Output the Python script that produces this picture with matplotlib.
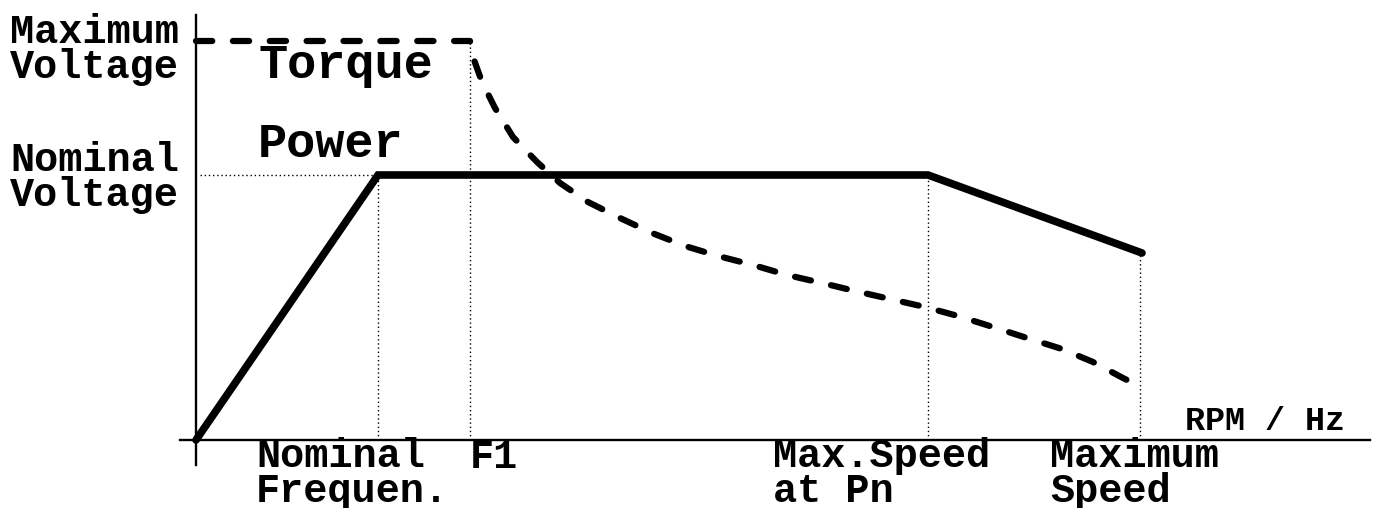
import numpy as np
import matplotlib
matplotlib.use("Agg")
import matplotlib.pyplot as plt

# speed axis (arbitrary units, origin at 0)
power_x = [0, 182, 732, 946]
power_y = [0, 265, 265, 187]

torque_x = [0, 274, 277, 286, 299, 317, 341, 364, 392, 424, 456, 489, 522, 557,
            591, 626, 659, 694, 729, 762, 797, 831, 866, 897, 927, 939]
torque_y = [399, 399, 383, 358, 332, 303, 278, 257, 238, 222, 207, 194, 184, 175,
            165, 157, 149, 141, 133, 124, 113, 102, 91, 78, 62, 56]

nominal_freq = 182
f1 = 274
max_speed_pn = 732
max_speed = 944
nominal_v = 265
max_v = 399
power_at_max = 187

y_labels = ["Maximum\nVoltage", "Nominal\nVoltage"]
x_labels = ["Nominal\nFrequen.", "F1", "Max.Speed\nat Pn", "Maximum\nSpeed"]

mono = "Liberation Mono"

fig = plt.figure(figsize=(13.77, 5.08), dpi=100)
ax = fig.add_axes([0, 0, 1, 1])
ax.set_xlim(-196, 1377 - 196)
ax.set_ylim(440 - 508, 440)
ax.axis("off")

# axes
ax.plot([0, 0], [-25, 425], color="black", lw=1.7)
ax.plot([-16, 1174], [0, 0], color="black", lw=1.7)

# dotted guides
dot = dict(color="black", lw=1.0, ls=(0, (1, 2)))
ax.plot([4, nominal_freq], [nominal_v, nominal_v], **dot)
ax.plot([nominal_freq, nominal_freq], [0, nominal_v], **dot)
ax.plot([f1, f1], [0, max_v], **dot)
ax.plot([max_speed_pn, max_speed_pn], [0, nominal_v], **dot)
ax.plot([max_speed, max_speed], [0, power_at_max], **dot)

# curves
ax.plot(power_x, power_y, color="black", lw=5.5, solid_capstyle="round", solid_joinstyle="miter")
ax.plot(torque_x, torque_y, color="black", lw=4.5, ls=(0, (2.6, 3.3)),
        dash_capstyle="round")

# labels (position = baseline of last line)
lab = dict(family=mono, weight="bold", fontsize=29, va="baseline", ha="left", linespacing=0.89)
ax.text(-186, 362, y_labels[0], **lab)
ax.text(-186, 234, y_labels[1], **lab)
ax.text(60, -62, x_labels[0], **lab)
ax.text(274, -28, x_labels[1], **lab)
ax.text(577, -62, x_labels[2], **lab)
ax.text(854, -62, x_labels[3], **lab)
ax.text(989, 10, "RPM / Hz", family=mono, weight="bold", fontsize=24, va="baseline", ha="left")

big = dict(family=mono, weight="bold", fontsize=35, va="baseline", ha="left")
ax.text(62, 362, "Torque", **big)
ax.text(62, 283, "Power", **big)

fig.savefig("out.png", dpi=100)
